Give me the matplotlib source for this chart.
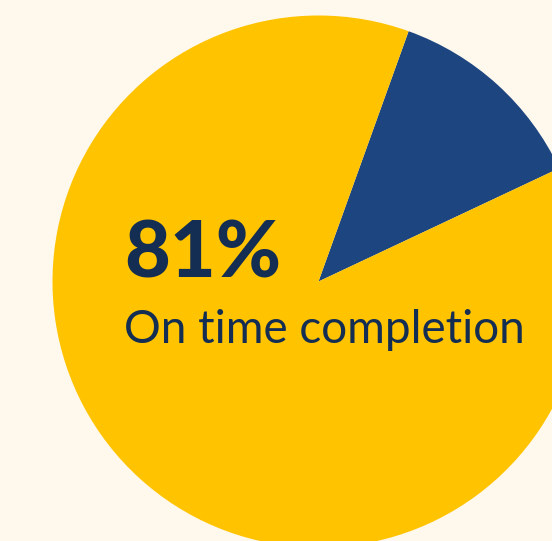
import matplotlib
matplotlib.use('Agg')
import matplotlib.pyplot as plt

# slice shares as drawn, and the headline figure
labels = ["Late", "On time"]
shares = [12.5, 87.5]
colors = ["#1D4580", "#FFC300"]
headline = "81%"
caption = "On time completion"

W, H = 552, 541
fig = plt.figure(figsize=(W / 100, H / 100), dpi=100, facecolor="#FFF8EC")
ax = fig.add_axes([0, 0, 1, 1])
ax.set_facecolor("#FFF8EC")

ax.pie(shares, colors=colors, startangle=25.2, counterclock=True,
       center=(318.5, H - 281.5), radius=266, frame=True,
       wedgeprops=dict(linewidth=0))

ax.set_xlim(0, W)
ax.set_ylim(0, H)
ax.set_aspect("equal")
ax.axis("off")

fam = ["Lato", "DejaVu Sans"]
ax.text(124, H - 277, headline, fontsize=57, fontweight="black",
        family=fam, color="#142D52", va="baseline", ha="left")
cap = ax.text(124, H - 343, caption, fontsize=36, fontweight="normal",
              family=fam, color="#142D52", va="baseline", ha="left")

# shrink the caption so it runs from x=124 to about x=525
fig.canvas.draw()
w = cap.get_window_extent().width
cap.set_fontsize(36 * 401 / w)

fig.savefig("out.png", dpi=100, facecolor=fig.get_facecolor())
